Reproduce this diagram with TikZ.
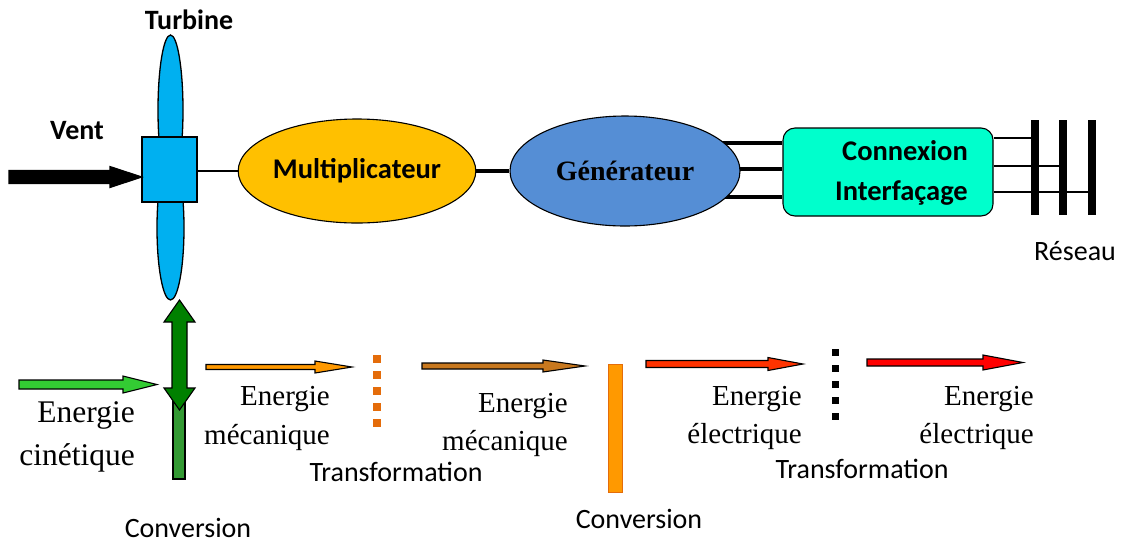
\documentclass[tikz,border=0pt]{standalone}
\usepackage{fontspec}
\setmainfont{Liberation Serif}
\newfontfamily\calibri{Carlito}
\usetikzlibrary{shapes.geometric,backgrounds,calc}

\definecolor{bladeblue}{HTML}{00B0F0}
\definecolor{multcol}{HTML}{FFC000}
\definecolor{gencol}{HTML}{558ED5}
\definecolor{cnxcol}{HTML}{00FFCC}
\definecolor{darkgreen}{HTML}{008000}
\definecolor{midgreen}{HTML}{339933}
\definecolor{lightgreen}{HTML}{33CC33}
\definecolor{orangearrow}{HTML}{FF9900}
\definecolor{orangedot}{HTML}{E46C0A}
\definecolor{brownarrow}{HTML}{C8781E}
\definecolor{redorange}{HTML}{FF3300}
\definecolor{redarrow}{HTML}{FF0000}

% block arrow: x-start, x-tip, y, shaft half width, head half width, head length, fill
\newcommand{\blkarrow}[7]{%
  \draw[blockarrow, fill=#7]
    (#1,#3-#4) -- (#2-#6,#3-#4) -- (#2-#6,#3-#5) -- (#2,#3)
    -- (#2-#6,#3+#5) -- (#2-#6,#3+#4) -- (#1,#3+#4) -- cycle;}

\tikzset{
  blockarrow/.style={draw=black, line width=1.1pt, line join=miter},
  blade/.style={draw, ellipse, fill=bladeblue, line width=1.3pt, inner sep=0pt},
  unit/.style={draw, ellipse, line width=1.1pt, inner sep=0pt},
  bar/.style={fill=black, inner sep=0pt, minimum width=8pt, minimum height=95pt},
  serif/.style={font=\fontsize{29}{34}\selectfont, inner sep=0pt},
  sans/.style={font=\calibri\fontsize{28}{33}\selectfont, inner sep=0pt},
  sansbold/.style={font=\calibri\bfseries\fontsize{28}{33}\selectfont, inner sep=0pt},
}

\begin{document}
\begin{tikzpicture}[x=1pt, y=-1pt]
\useasboundingbox (0,0) rectangle (1126,542);

% ---- turbine ----
\node[blade, minimum width=25pt, minimum height=150pt] (bladeT) at (170.5,110) {};
\node[blade, minimum width=27pt, minimum height=144pt] (bladeB) at (170.5,228) {};
\node[draw, fill=bladeblue, line width=1.3pt, inner sep=0pt,
      minimum width=55pt, minimum height=65pt] (hub) at (169.5,169.5) {};
\node[sansbold, anchor=base] (turbine) at (189,29) {Turbine};
\node[sansbold, anchor=base] (vent) at (77,139) {Vent};

% wind arrow into the hub
\blkarrow{9}{142}{177}{6.5}{10.5}{32}{black}

% ---- drive train ----
\node[unit, fill=multcol, minimum width=221pt, minimum height=104pt,
      font=\calibri\bfseries\fontsize{28.5}{33}\selectfont] (mult) at (357,171) {Multiplicateur};
\node[unit, fill=gencol, minimum width=230pt, minimum height=110pt,
      font=\bfseries\fontsize{28}{33}\selectfont] (gen) at (625,171) {\raisebox{-7pt}{Générateur}};
\node[draw, fill=cnxcol, line width=1.1pt, rounded corners=12pt, inner sep=0pt,
      minimum width=210pt, minimum height=88pt] (cnx) at (888,172) {};
\node[sansbold, anchor=base east, font=\calibri\bfseries\fontsize{28.5}{33}\selectfont] (cnx1) at (968,160) {Connexion};
\node[sansbold, anchor=base east, font=\calibri\bfseries\fontsize{28.5}{33}\selectfont] (cnx2) at (968,200) {Interfaçage};

\draw[line width=2.5pt] (hub.east |- mult.west) -- (mult.west);
\draw[line width=3.5pt] (mult.east) -- (gen.west);

% three-phase link generator -> interface
\coordinate (g1) at ($(cnx.west)+(0,-29)$);
\coordinate (g2) at ($(cnx.west)+(0,-3)$);
\coordinate (g3) at ($(cnx.west)+(0,25)$);
\begin{pgfonlayer}{background}
  \draw[line width=4pt] (gen.center |- g1) -- (g1);
  \draw[line width=4pt] (gen.center |- g2) -- (g2);
  \draw[line width=4pt] (gen.center |- g3) -- (g3);
\end{pgfonlayer}

% ---- grid ----
\node[bar] (bar1) at (1035,167.5) {};
\node[bar] (bar2) at (1063,167.5) {};
\node[bar] (bar3) at (1092,167.5) {};
\coordinate (r1) at ($(cnx.east)+(0,-34)$);
\coordinate (r2) at ($(cnx.east)+(0,-6)$);
\coordinate (r3) at ($(cnx.east)+(0,20)$);
\draw[line width=2pt] (r1) -- (bar1.center |- r1);
\draw[line width=2pt] (r2) -- (bar2.center |- r2);
\draw[line width=2pt] (r3) -- (bar3.center |- r3);
\node[sans, anchor=base] (reseau) at (1075,260) {Réseau};

% ---- energy chain ----
% conversion at the turbine
\draw[fill=midgreen, line width=1.2pt] (173,395) rectangle (185,479);
\draw[blockarrow, fill=darkgreen]
  (179.5,300) -- (195,322) -- (187,322) -- (187,388) -- (195,388) -- (179.5,410)
  -- (164,388) -- (172,388) -- (172,322) -- (164,322) -- cycle;

\blkarrow{19}{157}{384.5}{4.5}{8.5}{34}{lightgreen}
\node[anchor=base east, inner sep=0pt, font=\fontsize{31.5}{36}\selectfont] (ec1) at (135,422) {Energie};
\node[anchor=base east, inner sep=0pt, font=\fontsize{31.5}{36}\selectfont] (ec2) at (135,465) {cinétique};
\node[sans, anchor=base] (conv1) at (188,537) {Conversion};

\blkarrow{206}{352}{367}{2.5}{6}{37}{orangearrow}
\node[serif, anchor=base east] (em1) at (330,405) {Energie};
\node[serif, anchor=base east] (em2) at (330,444) {mécanique};

% transformation in the gearbox
\draw[orangedot, line width=8pt, dash pattern=on 8pt off 8pt] (377,355) -- (377,427);
\node[sans, anchor=base] (trans1) at (396,481) {Transformation};

\blkarrow{422}{585}{366}{3}{6}{42}{brownarrow}
\node[serif, anchor=base east] (em3) at (568,412) {Energie};
\node[serif, anchor=base east] (em4) at (568,450) {mécanique};

% conversion in the generator
\draw[fill=orangearrow, draw=orangedot, line width=1pt] (608,364) rectangle (622,492);
\node[sans, anchor=base] (conv2) at (639,528) {Conversion};

\blkarrow{646}{803}{364}{3.5}{6.5}{35}{redorange}
\node[serif, anchor=base east] (ee1) at (802,405) {Energie};
\node[serif, anchor=base east] (ee2) at (802,443) {électrique};

% transformation in the interface
\draw[black, line width=7pt, dash pattern=on 7pt off 9pt] (835,349) -- (835,422);
\node[sans, anchor=base] (trans2) at (862,478) {Transformation};

\blkarrow{867}{1023}{362.5}{3.5}{7.5}{40}{redarrow}
\node[serif, anchor=base east] (ee3) at (1034,405) {Energie};
\node[serif, anchor=base east] (ee4) at (1034,443) {électrique};
\end{tikzpicture}
\end{document}
